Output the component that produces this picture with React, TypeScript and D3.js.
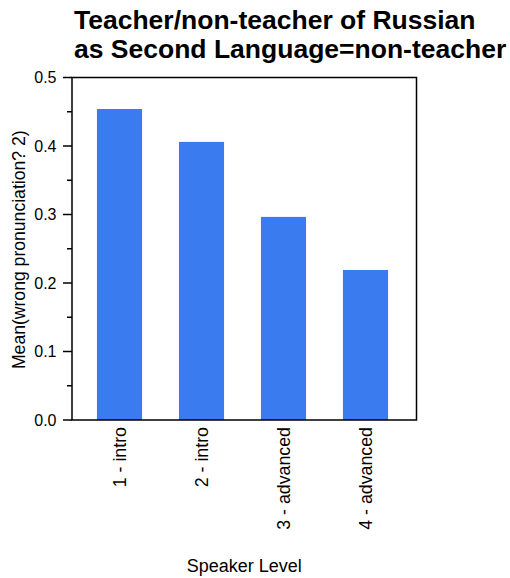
import React from "react";
import * as d3 from "d3";

const categories = ["1 - intro", "2 - intro", "3 - advanced", "4 - advanced"];
const values = [0.454, 0.406, 0.2965, 0.219];
const majorTicks = [0, 0.1, 0.2, 0.3, 0.4, 0.5];
const minorTicks = [0.05, 0.15, 0.25, 0.35, 0.45];
const titleLines = ["Teacher/non-teacher of Russian", "as Second Language=non-teacher"];
const yLabel = "Mean(wrong pronunciation? 2)";
const xLabel = "Speaker Level";

export default function App() {
  const W = 510, H = 578;
  const left = 72, right = 416.5, top = 77.5, bottom = 420;
  const y = d3.scaleLinear().domain([0, 0.5]).range([bottom, top]);
  const x = d3.scaleBand<string>().domain(categories).range([78.5, 406.5]).paddingInner(0.45).paddingOuter(0.225);
  const font = "'Liberation Sans', Arial, sans-serif";
  return (
    <svg width={W} height={H} style={{ position: "absolute", left: 0, top: 0 }} fontFamily={font}>
      <rect width={W} height={H} fill="#fff" />
      {titleLines.map((t, i) => (
        <text key={i} x={74} y={29 + i * 29} textAnchor="start" fontSize={26.5} fontWeight="bold" fill="#000">{t}</text>
      ))}
      {categories.map((c, i) => (
        <rect key={c} x={x(c)} y={y(values[i])} width={x.bandwidth()} height={bottom - y(values[i])} fill="#3a7cf0" />
      ))}
      <rect x={left} y={top} width={right - left} height={bottom - top} fill="none" stroke="#000" strokeWidth={1.5} />
      {majorTicks.map((t) => (
        <g key={t}>
          <line x1={left - 9} x2={left} y1={y(t)} y2={y(t)} stroke="#000" strokeWidth={1.5} />
          <text x={left - 15.5} y={y(t)} dy="0.35em" textAnchor="end" fontSize={16} fill="#000">{d3.format(".1f")(t)}</text>
        </g>
      ))}
      {minorTicks.map((t) => (
        <line key={t} x1={left - 5} x2={left} y1={y(t)} y2={y(t)} stroke="#000" strokeWidth={1.5} />
      ))}
      {categories.map((c) => {
        const cx = (x(c) as number) + x.bandwidth() / 2;
        return (
          <text key={c} transform={`translate(${cx},427) rotate(-90)`} dy="0.35em" textAnchor="end" fontSize={17.8} fill="#000">{c}</text>
        );
      })}
      <text transform={`translate(19,${(top + bottom) / 2 + 1}) rotate(-90)`} dy="0.35em" textAnchor="middle" fontSize={17.6} fill="#000">{yLabel}</text>
      <text x={(left + right) / 2} y={572} textAnchor="middle" fontSize={18} fill="#000">{xLabel}</text>
    </svg>
  );
}
